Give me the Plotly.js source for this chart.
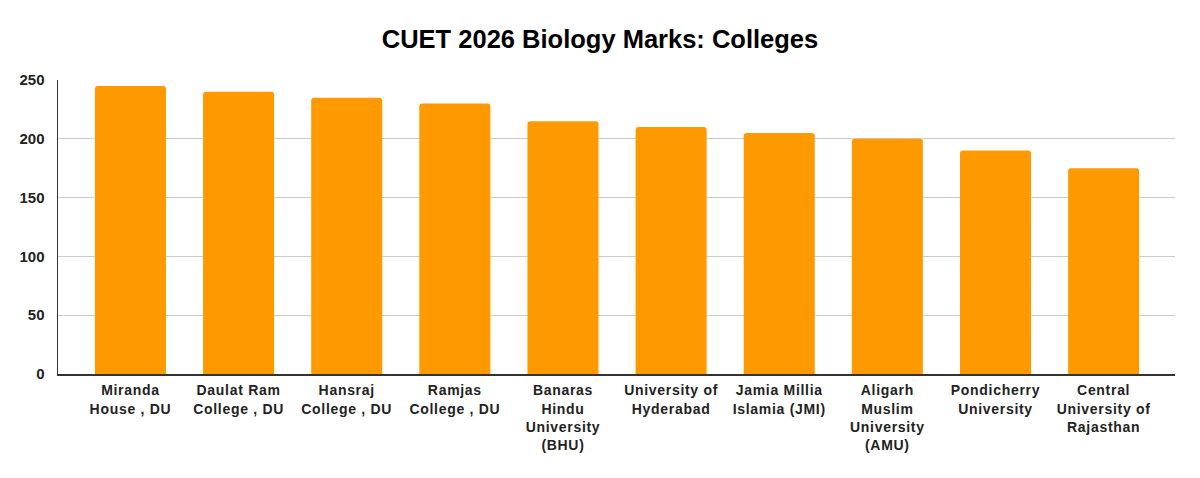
<!DOCTYPE html>
<html><head><meta charset="utf-8">
<script src="https://cdn.plot.ly/plotly-3.0.1.min.js"></script>
<style>html,body{margin:0;padding:0;background:#fff;}#chart{width:1200px;height:478px;}
.xtick text{letter-spacing:0.7px;}</style>
</head><body><div id="chart"></div>
<script>
const colleges = [
  "Miranda<br>House , DU",
  "Daulat Ram<br>College , DU",
  "Hansraj<br>College , DU",
  "Ramjas<br>College , DU",
  "Banaras<br>Hindu<br>University<br>(BHU)",
  "University of<br>Hyderabad",
  "Jamia Millia<br>Islamia (JMI)",
  "Aligarh<br>Muslim<br>University<br>(AMU)",
  "Pondicherry<br>University",
  "Central<br>University of<br>Rajasthan"
];
const marks = [245, 240, 235, 230, 215, 210, 205, 200, 190, 175];
const yTicks = [0, 50, 100, 150, 200, 250];

const fam = "Liberation Sans, Arial, sans-serif";
Plotly.newPlot("chart", [{
  type: "bar",
  x: colleges,
  y: marks,
  marker: {color: "#ff9900", cornerradius: 3},
  hoverinfo: "x+y"
}], {
  width: 1200, height: 478,
  margin: {l: 58, r: 25, t: 80, b: 104},
  paper_bgcolor: "#fff", plot_bgcolor: "#fff",
  bargap: 0.343,
  title: {text: "<b>CUET 2026 Biology Marks: Colleges</b>", x: 0.5, xanchor: "center", y: 0.918, yanchor: "middle",
    font: {family: fam, size: 25.5, color: "#000"}},
  xaxis: {
    range: [-0.67, 9.66],
    tickfont: {family: fam, size: 14, color: "#222", weight: "bold"},
    showline: true, linecolor: "#333", linewidth: 1.5,
    ticks: "", showgrid: false, tickangle: 0, automargin: false, ticklabelstandoff: 3
  },
  yaxis: {
    range: [0, 250], tickvals: yTicks, ticktext: yTicks.map(String),
    tickfont: {family: fam, size: 15, color: "#222", weight: "bold"},
    showline: true, linecolor: "#333", linewidth: 1.5,
    gridcolor: "#cccccc", gridwidth: 1, zeroline: false, ticks: "", ticklabelstandoff: 9, automargin: false
  },
  showlegend: false
}, {displayModeBar: false, staticPlot: true});
</script>
</body></html>
